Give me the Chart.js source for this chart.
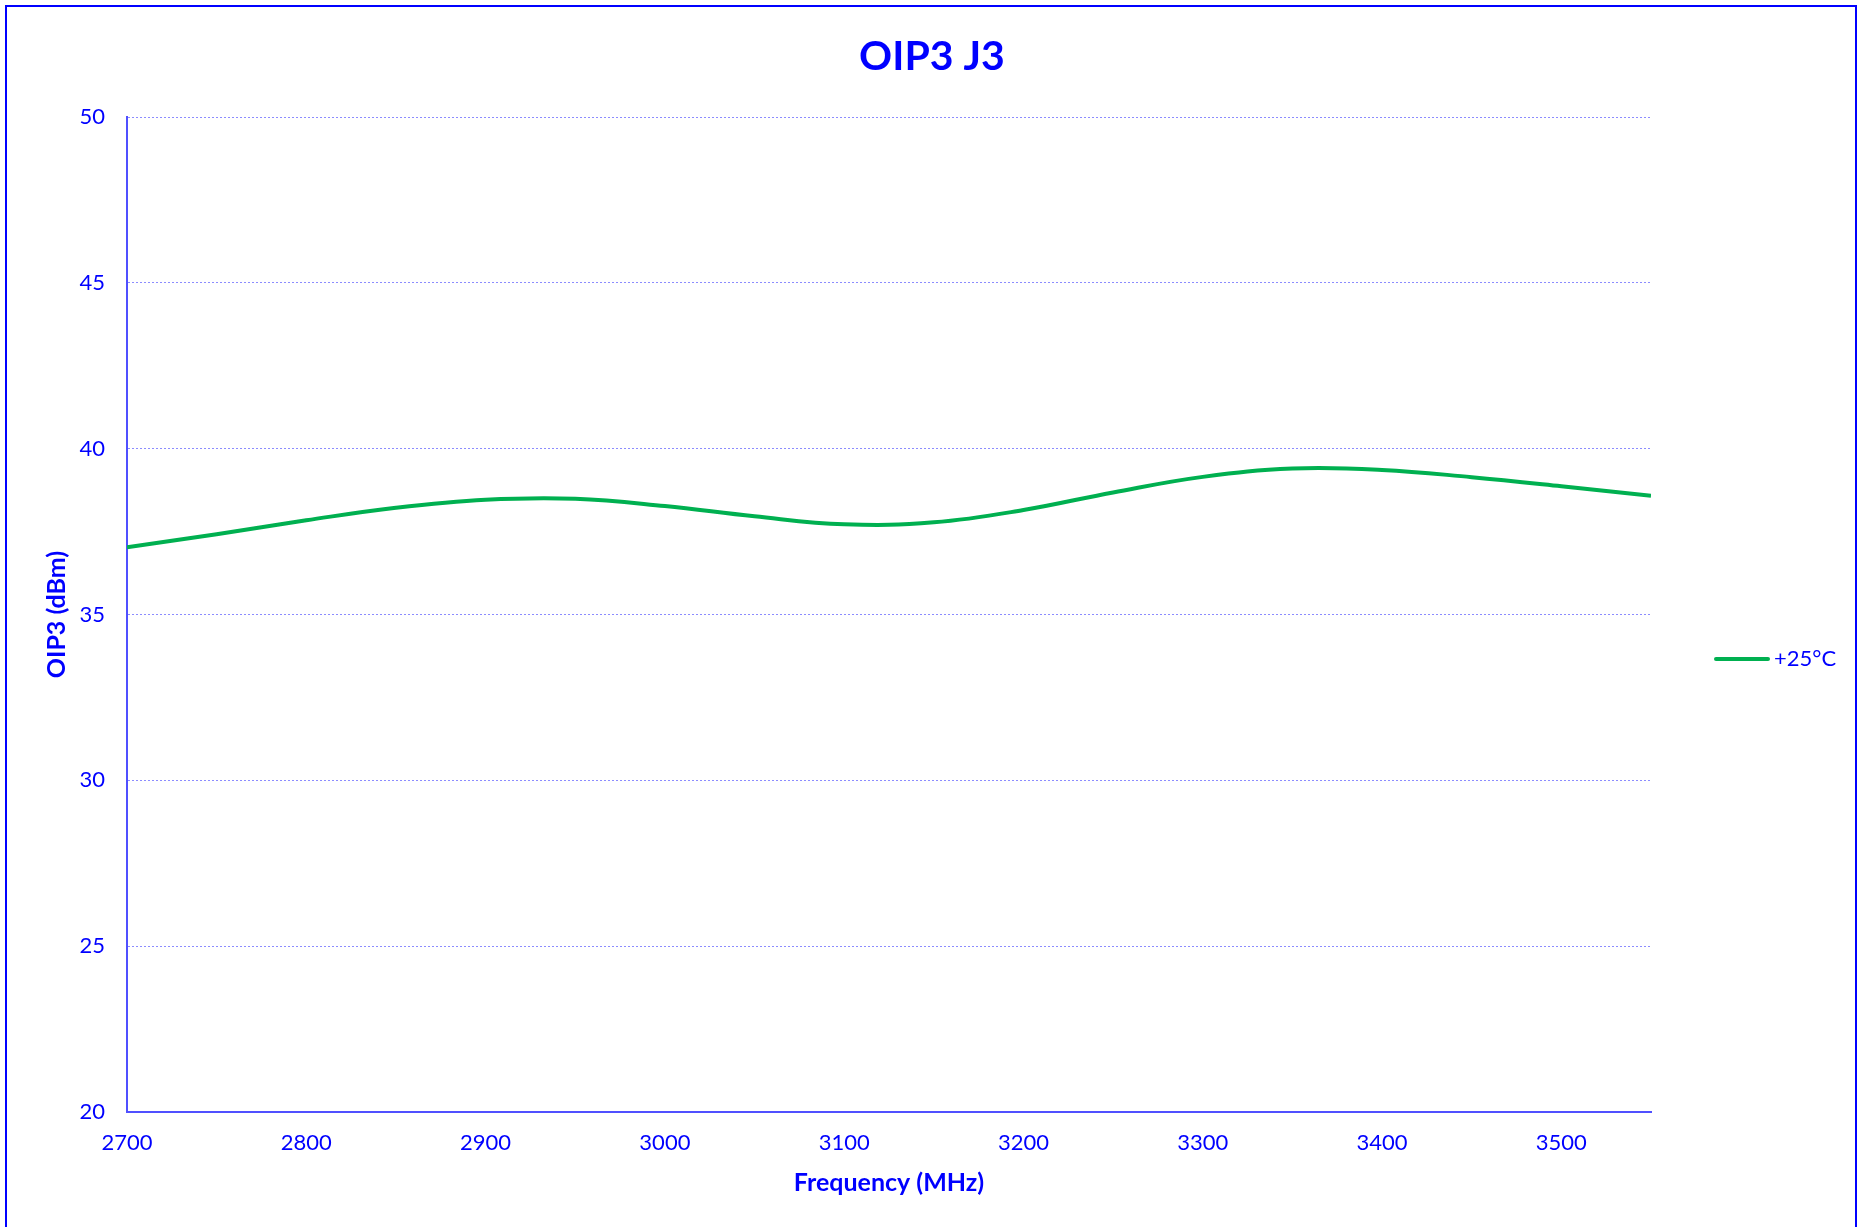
<!DOCTYPE html>
<html>
<head>
<meta charset="utf-8">
<script src="https://cdn.jsdelivr.net/npm/chart.js@4/dist/chart.umd.min.js"></script>
<style>
  html, body { margin: 0; padding: 0; background: #fff; }
  #wrap { position: relative; width: 1864px; height: 1227px; overflow: hidden; }
  #frame { position: absolute; left: 5px; top: 5px; width: 1848px; height: 1300px; border: 2px solid #0000FF; pointer-events: none; }
  canvas { position: absolute; left: 0; top: 0; }
</style>
</head>
<body>
<div id="wrap">
  <canvas id="chart" width="1864" height="1227"></canvas>
  <div id="frame"></div>
</div>
<script>
// data
const freq = [2700, 2750, 2800, 2850, 2900, 2950, 3000, 3050, 3100, 3150, 3200, 3250, 3300, 3350, 3400, 3450, 3500, 3550];
const oip3 = [37.03, 37.42, 37.84, 38.22, 38.46, 38.49, 38.27, 37.96, 37.72, 37.78, 38.15, 38.68, 39.15, 39.40, 39.36, 39.14, 38.87, 38.58];
const xTicks = [2700, 2800, 2900, 3000, 3100, 3200, 3300, 3400, 3500];
const yTicks = [20, 25, 30, 35, 40, 45, 50];

const blue = '#0000FF';
const green = '#00B050';
const font = 'Lato, "Open Sans", sans-serif';

// legend drawn in the right margin, like the Excel one
const sideLegend = {
  id: 'sideLegend',
  afterDraw(c) {
    const ctx = c.ctx;
    const ds = c.data.datasets[0];
    const y = 659;
    ctx.save();
    ctx.strokeStyle = ds.borderColor;
    ctx.lineWidth = 4;
    ctx.lineCap = 'round';
    ctx.beginPath();
    ctx.moveTo(1716, y);
    ctx.lineTo(1768, y);
    ctx.stroke();
    ctx.fillStyle = blue;
    ctx.font = '22px ' + font;
    ctx.textBaseline = 'middle';
    ctx.fillText(ds.label, 1774, y);
    ctx.restore();
  }
};

new Chart(document.querySelector('#chart').getContext('2d'), {
  type: 'line',
  data: {
    datasets: [{
      label: '+25°C',
      data: freq.map((f, i) => ({x: f, y: oip3[i]})),
      borderColor: green,
      borderWidth: 4,
      pointRadius: 0,
      tension: 0.4,
      fill: false
    }]
  },
  options: {
    responsive: false,
    animation: false,
    layout: { padding: 0 },
    plugins: {
      legend: { display: false },
      tooltip: { enabled: false },
      title: {
        display: true,
        text: 'OIP3 J3',
        color: blue,
        font: { family: font, size: 41, weight: 'bold' },
        padding: { top: 32, bottom: 35.8 }
      }
    },
    scales: {
      x: {
        type: 'linear',
        min: 2700,
        max: 3550,
        afterBuildTicks: s => { s.ticks = xTicks.map(v => ({value: v})); },
        afterFit: s => { s.height = 115; },
        grid: { display: false, drawTicks: false },
        border: { color: '#5050FF', width: 2 },
        ticks: { color: blue, padding: 18, font: { family: font, size: 22 }, callback: v => String(v) },
        title: {
          display: true,
          text: 'Frequency (MHz)',
          color: blue,
          font: { family: font, size: 25, weight: 'bold' },
          padding: { top: 0, bottom: 29 }
        }
      },
      y: {
        min: 20,
        max: 50,
        afterBuildTicks: s => { s.ticks = yTicks.map(v => ({value: v})); },
        afterFit: s => { s.width = 127; },
        grid: { color: '#8C8CFF', lineWidth: 1, drawTicks: false },
        border: { color: '#5050FF', width: 2, dash: [2, 2] },
        ticks: { color: blue, padding: 22, font: { family: font, size: 22 }, callback: v => String(v) },
        title: {
          display: true,
          text: 'OIP3 (dBm)',
          color: blue,
          font: { family: font, size: 25, weight: 'bold' },
          padding: { top: 42, bottom: 0 }
        }
      },
      // empty right-hand axis that keeps the margin where the legend sits
      side: {
        type: 'linear',
        position: 'right',
        display: true,
        afterFit: s => { s.width = 213; },
        grid: { display: false, drawTicks: false },
        border: { display: false },
        ticks: { display: false }
      }
    }
  },
  plugins: [sideLegend]
});
</script>
</body>
</html>
